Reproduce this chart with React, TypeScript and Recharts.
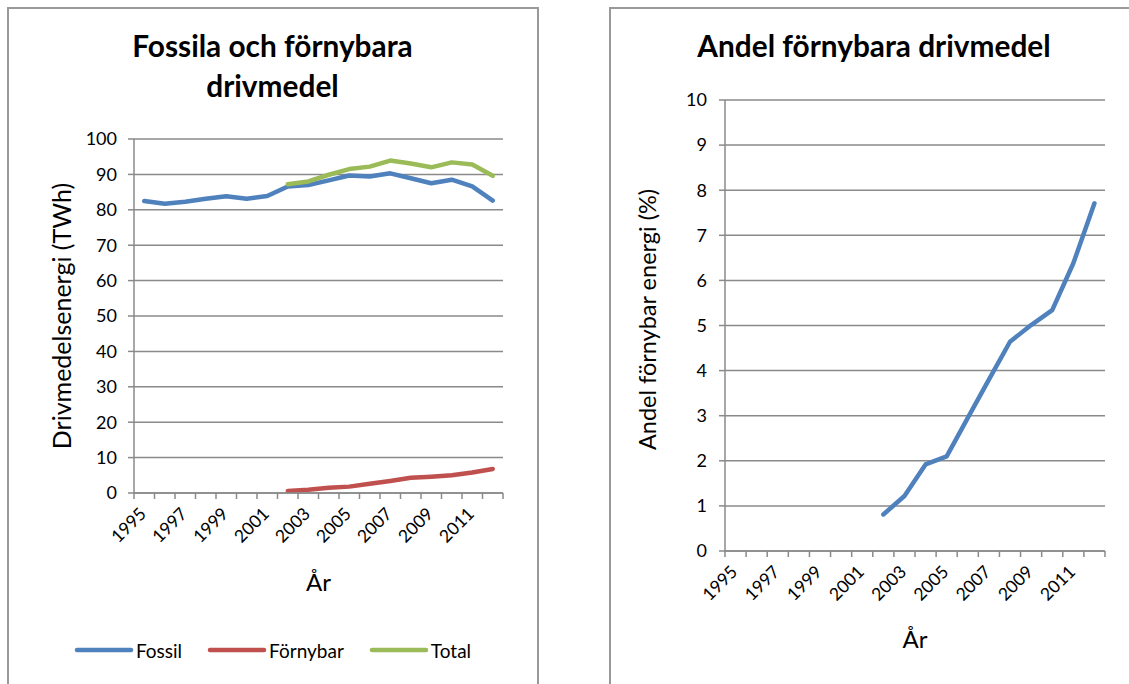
import React from 'react';
import { LineChart, Line, XAxis, YAxis, CartesianGrid, Legend } from 'recharts';

const years = ['1995', '1996', '1997', '1998', '1999', '2000', '2001', '2002', '2003', '2004', '2005', '2006', '2007', '2008', '2009', '2010', '2011', '2012'];
const fossil = [82.5, 81.7, 82.3, 83.1, 83.8, 83.1, 83.9, 86.6, 87.0, 88.3, 89.7, 89.4, 90.3, 88.9, 87.5, 88.5, 86.6, 82.6];
const fornybar = [null, null, null, null, null, null, null, 0.6, 0.9, 1.5, 1.8, 2.6, 3.4, 4.3, 4.6, 5.0, 5.8, 6.8];
const total = [null, null, null, null, null, null, null, 87.2, 88.0, 89.9, 91.5, 92.2, 93.9, 93.1, 92.0, 93.4, 92.8, 89.6];
const andel = [null, null, null, null, null, null, null, 0.81, 1.22, 1.92, 2.1, 2.95, 3.8, 4.64, 5.01, 5.34, 6.38, 7.71];

const leftTicks = [0, 10, 20, 30, 40, 50, 60, 70, 80, 90, 100];
const rightTicks = [0, 1, 2, 3, 4, 5, 6, 7, 8, 9, 10];

const leftData = years.map((y, i) => ({ year: y, Fossil: fossil[i], 'Förnybar': fornybar[i], Total: total[i] }));
const rightData = years.map((y, i) => ({ year: y, andel: andel[i] }));

const FONT = 'Lato, "Open Sans", sans-serif';
const GRID = '#8a8a8a';
const BLUE = '#4F81BD';
const RED = '#C0504D';
const GREEN = '#9BBB59';

const LEFT_PLOT_W = 369;
const RIGHT_PLOT_W = 380;

const XTick = (props: any) => {
  const { x, y, payload, index, visibleTicksCount, width } = props;
  const off = typeof payload.offset === 'number' && payload.offset > 0 ? payload.offset : width / (2 * years.length);
  const isLast = index === visibleTicksCount - 1;
  const tx = x + 3;
  const ty = y + 22;
  return (
    <g>
      <line x1={x - off} x2={x - off} y1={y} y2={y + 6} stroke={GRID} strokeWidth={1.5} />
      {isLast && <line x1={x + off} x2={x + off} y1={y} y2={y + 6} stroke={GRID} strokeWidth={1.5} />}
      {index % 2 === 0 && (
        <text x={tx} y={ty} textAnchor="end" transform={`rotate(-45, ${tx}, ${ty})`} fontSize={17.5} fill="#000" fontFamily={FONT}>
          {payload.value}
        </text>
      )}
    </g>
  );
};

const renderLegend = (props: any) => {
  const { payload } = props;
  return (
    <div style={{ display: 'flex', justifyContent: 'center', alignItems: 'center', height: 24, fontFamily: FONT, fontSize: 19, color: '#000' }}>
      {(payload || []).map((entry: any, i: number) => (
        <div key={i} style={{ display: 'flex', alignItems: 'center', marginLeft: i === 0 ? 0 : 25 }}>
          <svg width={60} height={10}>
            <line x1={3} x2={57} y1={5} y2={5} stroke={entry.color} strokeWidth={4.5} strokeLinecap="round" />
          </svg>
          <span style={{ marginLeft: 2 }}>{entry.value}</span>
        </div>
      ))}
    </div>
  );
};

const yTickStyle = { fontSize: 18, fill: '#000', fontFamily: FONT };

export default function App() {
  const lpad = LEFT_PLOT_W / (2 * years.length);
  const rpad = RIGHT_PLOT_W / (2 * years.length);
  return (
    <div style={{ position: 'absolute', left: 0, top: 0, width: 1129, height: 684, background: '#fff', overflow: 'hidden', fontFamily: FONT }}>
      <div style={{ position: 'absolute', left: 7, top: 7, width: 528, height: 720, border: '2px solid #999' }} />
      <div style={{ position: 'absolute', left: 609, top: 7, width: 600, height: 720, border: '2px solid #999' }} />
      <div style={{ position: 'absolute', left: 8, top: 26, width: 529, textAlign: 'center', fontSize: 29.8, fontWeight: 700, lineHeight: '40px', color: '#000' }}>
        Fossila och förnybara<br />drivmedel
      </div>
      <div style={{ position: 'absolute', left: 610, top: 26, width: 528, textAlign: 'center', fontSize: 29.8, fontWeight: 700, lineHeight: '40px', color: '#000' }}>
        Andel förnybara drivmedel
      </div>

      <div style={{ position: 'absolute', left: 0, top: 0 }}>
        <LineChart width={540} height={684} data={leftData} margin={{ top: 139, right: 37, left: 0, bottom: 10 }}>
          <CartesianGrid vertical={false} stroke={GRID} strokeWidth={1.5} />
          <XAxis
            dataKey="year"
            interval={0}
            padding={{ left: lpad, right: lpad }}
            tickLine={false}
            tickSize={0}
            tickMargin={0}
            tick={<XTick />}
            axisLine={{ stroke: GRID, strokeWidth: 1.5 }}
            height={157}
            label={{ value: 'År', position: 'insideTop', offset: 81, fontSize: 24, fill: '#000', fontFamily: FONT }}
          />
          <YAxis
            domain={[0, 100]}
            ticks={leftTicks}
            interval={0}
            width={134}
            tickSize={6}
            tickMargin={11}
            tick={yTickStyle}
            tickLine={{ stroke: GRID, strokeWidth: 1.5 }}
            axisLine={{ stroke: GRID, strokeWidth: 1.5 }}
            label={{ value: 'Drivmedelsenergi (TWh)', angle: -90, position: 'center', dx: -5, fontSize: 25, fill: '#000', fontFamily: FONT }}
          />
          <Legend content={renderLegend} wrapperStyle={{ left: 0, width: 545, top: 638, bottom: 'auto' }} />
          <Line type="linear" dataKey="Fossil" name="Fossil" stroke={BLUE} strokeWidth={4.5} dot={false} strokeLinecap="round" strokeLinejoin="round" isAnimationActive={false} />
          <Line type="linear" dataKey="Förnybar" name="Förnybar" stroke={RED} strokeWidth={4.5} dot={false} strokeLinecap="round" strokeLinejoin="round" isAnimationActive={false} />
          <Line type="linear" dataKey="Total" name="Total" stroke={GREEN} strokeWidth={4.5} dot={false} strokeLinecap="round" strokeLinejoin="round" isAnimationActive={false} />
        </LineChart>
      </div>

      <div style={{ position: 'absolute', left: 560, top: 0 }}>
        <LineChart width={569} height={684} data={rightData} margin={{ top: 100, right: 24, left: 0, bottom: 10 }}>
          <CartesianGrid vertical={false} stroke={GRID} strokeWidth={1.5} />
          <XAxis
            dataKey="year"
            interval={0}
            padding={{ left: rpad, right: rpad }}
            tickLine={false}
            tickSize={0}
            tickMargin={0}
            tick={<XTick />}
            axisLine={{ stroke: GRID, strokeWidth: 1.5 }}
            height={123}
            label={{ value: 'År', position: 'insideTop', offset: 80, fontSize: 24, fill: '#000', fontFamily: FONT }}
          />
          <YAxis
            domain={[0, 10]}
            ticks={rightTicks}
            interval={0}
            width={165}
            tickSize={6}
            tickMargin={12}
            tick={yTickStyle}
            tickLine={{ stroke: GRID, strokeWidth: 1.5 }}
            axisLine={{ stroke: GRID, strokeWidth: 1.5 }}
            label={{ value: 'Andel förnybar energi (%)', angle: -90, position: 'center', dx: 5, dy: -6, fontSize: 23.5, fill: '#000', fontFamily: FONT }}
          />
          <Line type="linear" dataKey="andel" name="Andel" stroke={BLUE} strokeWidth={4.5} dot={false} strokeLinecap="round" strokeLinejoin="round" isAnimationActive={false} />
        </LineChart>
      </div>
    </div>
  );
}
